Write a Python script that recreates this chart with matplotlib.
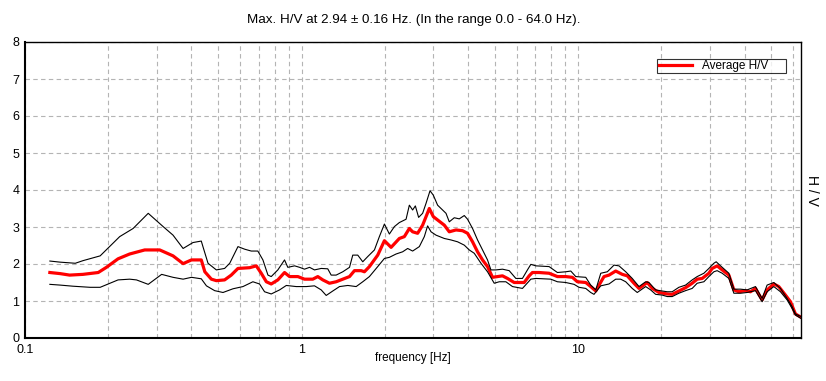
import numpy as np
import matplotlib
matplotlib.use("Agg")
import matplotlib.pyplot as plt
from matplotlib.ticker import LogLocator, NullFormatter

plt.rcParams['font.family'] = ['Liberation Sans', 'DejaVu Sans']

# upper curve (mean + std)
freq_hi = [0.123, 0.134, 0.152, 0.162, 0.187, 0.220, 0.246, 0.279, 0.316, 0.343, 0.373, 0.405, 0.434,
           0.440, 0.459, 0.492, 0.527, 0.550, 0.589, 0.623, 0.658, 0.695, 0.725, 0.756, 0.777, 0.821,
           0.868, 0.892, 0.944, 0.984, 1.025, 1.069, 1.114, 1.178, 1.244, 1.280, 1.334, 1.410, 1.491,
           1.532, 1.597, 1.665, 1.735,
           1.835, 1.912, 1.994, 2.078, 2.166, 2.258, 2.388, 2.454, 2.522, 2.580, 2.651, 2.741, 2.820,
           2.915, 2.996, 3.105, 3.330, 3.422, 3.567, 3.719, 3.877, 3.985, 4.154, 4.330, 4.514, 4.705,
           4.840, 5.045, 5.329, 5.635, 5.957, 6.293, 6.560,
           6.749, 7.035, 7.857, 8.419, 9.028, 9.411, 9.810, 10.66, 11.11, 11.59, 12.08, 12.76, 13.49,
           14.06, 14.87, 15.70, 16.61, 17.56, 18.04, 19.08, 20.15, 21.01,
           21.90, 23.15, 24.48, 25.86, 26.96, 28.51, 29.72, 30.98, 31.58, 32.76, 35.10, 36.59, 38.68,
           40.86, 43.82, 46.30, 48.26, 51.03, 53.94, 57.00, 59.41, 61.11, 64.0]
hv_hi = [2.08, 2.05, 2.02, 2.09, 2.22, 2.74, 2.96, 3.37, 3.01, 2.78, 2.42, 2.58, 2.62,
         2.47, 2.02, 1.84, 1.88, 2.02, 2.47, 2.40, 2.35, 2.35, 2.11, 1.70, 1.66, 1.84,
         2.11, 1.91, 1.95, 1.91, 1.86, 1.91, 1.84, 1.88, 1.87, 1.70, 1.70, 1.79, 1.91,
         2.24, 2.24, 2.06, 2.20,
         2.38, 2.74, 3.08, 2.81, 3.01, 3.12, 3.21, 3.59, 3.46, 3.57, 3.26, 3.37, 3.64,
         3.98, 3.86, 3.59, 3.37, 3.14, 3.25, 3.22, 3.31, 3.21, 2.96, 2.65, 2.38, 2.11,
         1.84, 1.84, 1.86, 1.82, 1.61, 1.61, 1.84,
         1.99, 1.95, 1.93, 1.77, 1.79, 1.81, 1.66, 1.64, 1.43, 1.30, 1.75, 1.79, 1.97,
         1.95, 1.79, 1.61, 1.39, 1.52, 1.50, 1.30, 1.27, 1.25,
         1.25, 1.37, 1.43, 1.57, 1.66, 1.75, 1.88, 2.02, 2.06, 1.95, 1.75, 1.32, 1.32,
         1.30, 1.39, 1.07, 1.43, 1.50, 1.34, 1.07, 0.85, 0.65, 0.58]

# average H/V
freq_avg = [0.123, 0.134, 0.145, 0.162, 0.184, 0.197, 0.217, 0.239, 0.271, 0.307, 0.343, 0.373, 0.400, 0.434,
            0.447, 0.472, 0.492, 0.527, 0.557, 0.589, 0.649, 0.686, 0.715, 0.746, 0.777, 0.821, 0.868,
            0.905, 0.970, 1.025, 1.098, 1.145, 1.194, 1.262, 1.334, 1.410, 1.491, 1.554, 1.643, 1.688, 1.760,
            1.886, 1.994, 2.108, 2.258, 2.354, 2.454, 2.522, 2.629, 2.741, 2.820, 2.898, 2.996, 3.105,
            3.283, 3.422, 3.618, 3.822, 3.985, 4.154, 4.330, 4.514, 4.705, 4.905, 5.112, 5.329, 5.556,
            5.874, 6.383,
            6.655, 6.840, 7.232, 7.857, 8.419, 9.028, 9.538, 9.943, 10.66, 11.11, 11.59, 11.91, 12.41,
            12.94, 13.68, 14.45, 15.07, 15.93, 16.61, 17.79, 18.55, 19.61, 21.01,
            21.90, 23.15, 24.48, 25.86, 26.96, 28.11, 29.72, 30.55, 31.84, 33.20, 35.10, 36.59, 38.14,
            40.32, 42.03, 43.82, 45.04, 46.30, 48.26, 51.03, 53.19, 56.23, 58.63, 61.11, 64.0]
hv_avg = [1.77, 1.74, 1.70, 1.72, 1.77, 1.91, 2.14, 2.27, 2.38, 2.38, 2.22, 2.01, 2.11, 2.11,
          1.79, 1.59, 1.55, 1.57, 1.70, 1.88, 1.90, 1.95, 1.75, 1.52, 1.46, 1.57, 1.77,
          1.66, 1.66, 1.59, 1.59, 1.66, 1.57, 1.48, 1.52, 1.59, 1.66, 1.82, 1.82, 1.79, 1.93,
          2.24, 2.63, 2.45, 2.69, 2.74, 2.96, 2.87, 2.83, 3.05, 3.28, 3.50, 3.28, 3.19,
          3.05, 2.87, 2.92, 2.90, 2.83, 2.60, 2.33, 2.11, 1.93, 1.64, 1.66, 1.68, 1.61,
          1.50, 1.50,
          1.68, 1.77, 1.77, 1.75, 1.66, 1.66, 1.64, 1.52, 1.50, 1.39, 1.27, 1.43, 1.66,
          1.70, 1.81, 1.72, 1.68, 1.48, 1.34, 1.50, 1.34, 1.23, 1.19,
          1.18, 1.27, 1.36, 1.48, 1.59, 1.61, 1.75, 1.88, 1.95, 1.84, 1.70, 1.30, 1.25,
          1.28, 1.25, 1.34, 1.18, 1.03, 1.30, 1.46, 1.39, 1.16, 0.98, 0.65, 0.56]

# lower curve (mean - std)
freq_lo = [0.123, 0.134, 0.149, 0.172, 0.187, 0.217, 0.239, 0.253, 0.279, 0.312, 0.343, 0.373, 0.400, 0.434,
           0.453, 0.485, 0.520, 0.565, 0.614, 0.667, 0.705, 0.735, 0.777, 0.833, 0.881, 0.957, 1.040,
           1.114, 1.178, 1.228, 1.297, 1.372, 1.470, 1.576, 1.665, 1.760,
           1.886, 1.994, 2.078, 2.197, 2.321, 2.420, 2.522, 2.667, 2.780, 2.857, 2.940, 3.064, 3.283,
           3.471, 3.667, 3.877, 4.041, 4.213, 4.455, 4.705, 4.975, 5.187, 5.483, 5.792, 6.293,
           6.749, 7.035, 7.969, 8.419, 9.028, 9.673, 10.08, 10.66, 11.11, 11.42, 12.08, 12.94, 13.68,
           14.26, 14.87, 15.70, 16.37, 17.56, 18.30, 19.08, 20.15, 21.01,
           21.90, 23.15, 24.48, 25.86, 26.96, 28.51, 29.72, 30.98, 31.84, 33.20, 35.10, 36.59, 38.68,
           40.86, 43.82, 46.30, 48.26, 51.03, 53.94, 57.00, 59.41, 61.11, 64.0]
hv_lo = [1.45, 1.43, 1.40, 1.37, 1.37, 1.57, 1.59, 1.57, 1.45, 1.72, 1.64, 1.59, 1.64, 1.60,
         1.41, 1.28, 1.23, 1.33, 1.39, 1.52, 1.46, 1.25, 1.19, 1.30, 1.42, 1.39, 1.39,
         1.41, 1.30, 1.15, 1.27, 1.39, 1.42, 1.39, 1.52, 1.66,
         1.93, 2.15, 2.18, 2.27, 2.33, 2.42, 2.35, 2.47, 2.74, 3.03, 2.87, 2.78, 2.69,
         2.65, 2.60, 2.51, 2.38, 2.29, 2.02, 1.79, 1.48, 1.52, 1.52, 1.39, 1.34,
         1.59, 1.61, 1.59, 1.52, 1.50, 1.45, 1.37, 1.34, 1.23, 1.18, 1.41, 1.46, 1.59,
         1.59, 1.52, 1.34, 1.23, 1.39, 1.30, 1.18, 1.16, 1.12,
         1.12, 1.21, 1.28, 1.34, 1.48, 1.52, 1.66, 1.79, 1.82, 1.75, 1.61, 1.21, 1.21,
         1.23, 1.28, 0.98, 1.25, 1.39, 1.25, 1.03, 0.80, 0.62, 0.53]

title = "Max. H/V at 2.94 \u00b1 0.16 Hz. (In the range 0.0 - 64.0 Hz)."

fig = plt.figure(figsize=(8.26, 3.81), dpi=100)
ax = fig.add_axes([25 / 826, 1 - 338 / 381, 776 / 826, 296 / 381])

# trailing spaces widen the legend box like in the original
ax.plot(freq_avg, hv_avg, color='#ff0000', lw=2.3, label='Average H/V     ', zorder=3)
ax.plot(freq_hi, hv_hi, color='black', lw=0.8, zorder=4)
ax.plot(freq_lo, hv_lo, color='black', lw=0.8, zorder=4)

ax.set_xscale('log')
ax.set_xlim(0.1, 64)
ax.set_ylim(0, 8)
ax.set_yticks(range(0, 9))
ax.set_xticks([0.1, 1, 10])
ax.set_xticklabels(['0.1', '1', '10'])
ax.xaxis.set_minor_locator(LogLocator(base=10, subs=np.arange(2, 10)))
ax.xaxis.set_minor_formatter(NullFormatter())
ax.tick_params(which='both', length=0, labelsize=9, colors='black')
ax.tick_params(axis='y', pad=4)
ax.tick_params(axis='x', pad=4)

ax.grid(True, which='both', axis='x', color='#b4b4b4', linestyle=(0, (4, 3)), lw=0.8)
ax.grid(True, which='major', axis='y', color='#b4b4b4', linestyle=(0, (4, 3)), lw=0.8)
ax.set_axisbelow(True)

for side in ['left', 'bottom']:
    ax.spines[side].set_linewidth(1.5)
for side in ['top', 'right']:
    ax.spines[side].set_linewidth(1.0)

ax.set_xlabel('frequency [Hz]', fontsize=8.5)
ax.xaxis.set_label_coords(0.5, -0.068)
ax.xaxis.label.set_va('center')

ax.text(1.014, 0.5, 'H / V', transform=ax.transAxes, rotation=-90,
        ha='center', va='center', fontsize=10)

fig.text(414 / 826, 1 - 20 / 381, title, ha='center', va='center', fontsize=9.6)

leg = ax.legend(loc='upper right', bbox_to_anchor=(0.9807, 0.9426), borderaxespad=0,
                fontsize=8.5, frameon=True, fancybox=False, handlelength=2.8,
                borderpad=0.1, handletextpad=0.9)
leg.get_frame().set_edgecolor('black')
leg.get_frame().set_linewidth(0.8)

fig.savefig('out.png', dpi=100, facecolor='white')
